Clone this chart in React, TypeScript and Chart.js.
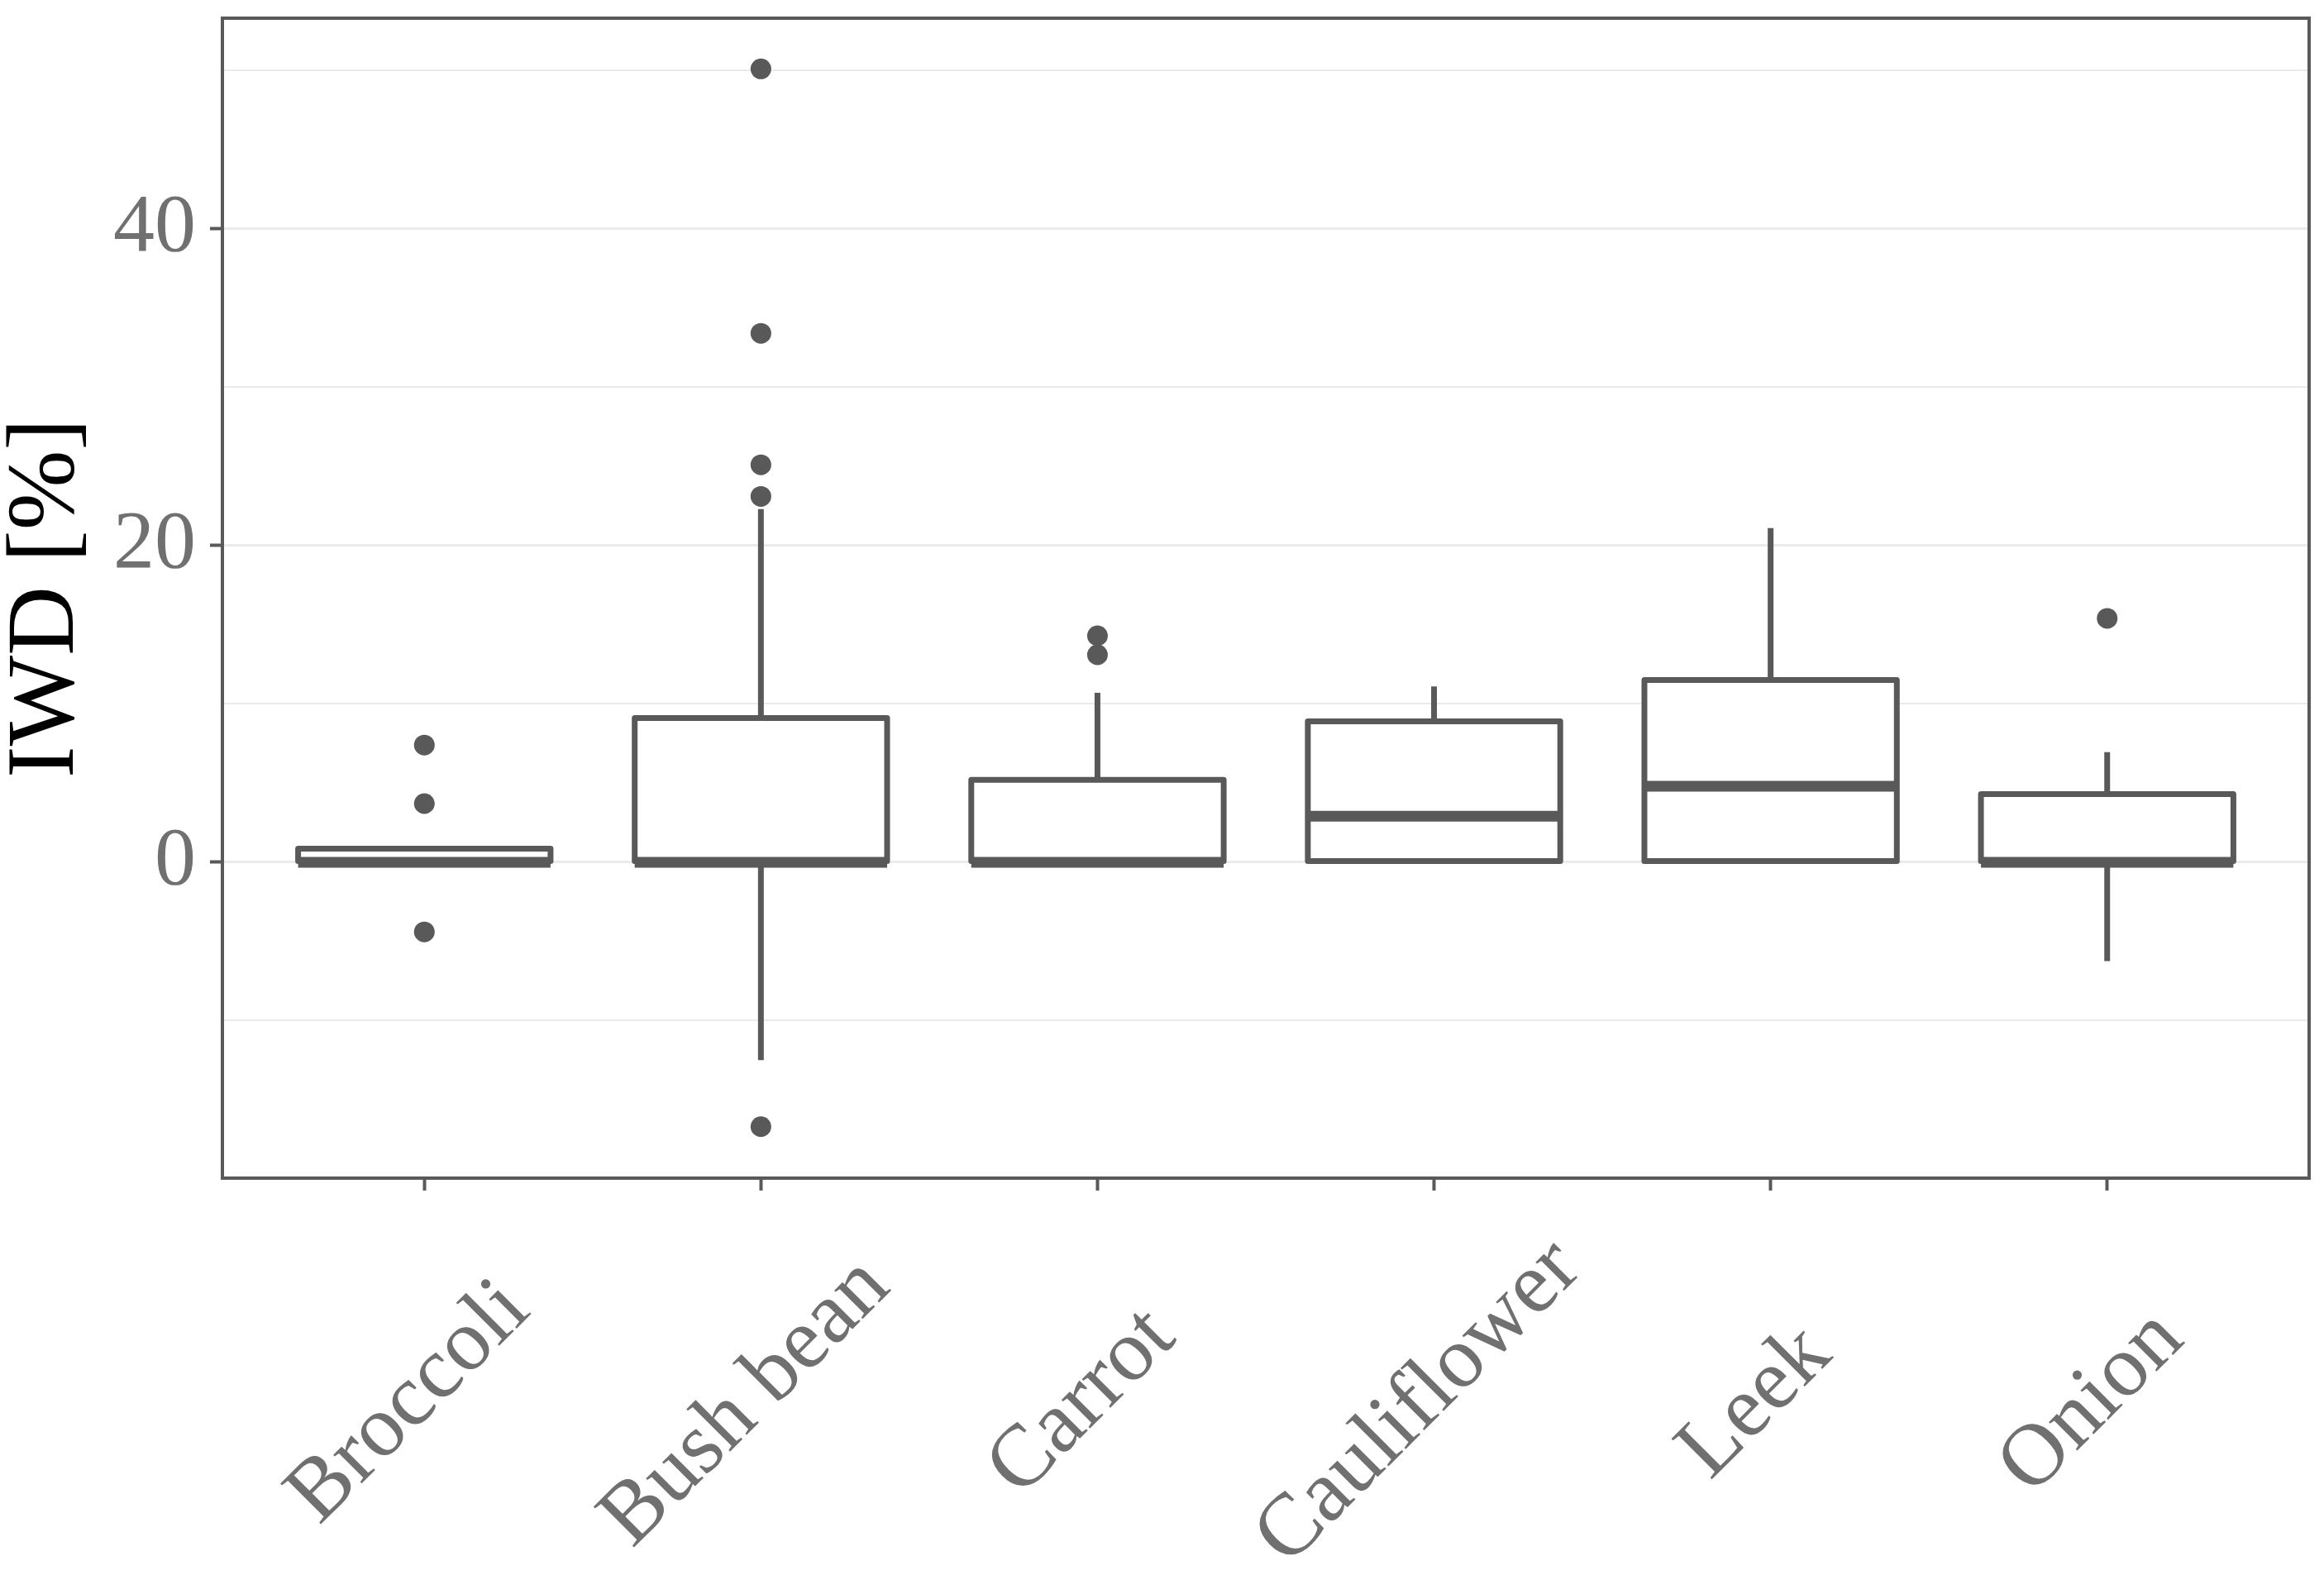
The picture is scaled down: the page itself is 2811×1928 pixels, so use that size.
import React, { useEffect, useRef } from "react";
import { Chart, registerables } from "chart.js";

Chart.register(...registerables);

// box statistics per crop
const categories = ["Broccoli", "Bush bean", "Carrot", "Cauliflower", "Leek", "Onion"];
const q1 = [0, 0, 0, 0, 0, 0];
const median = [0, 0, 0, 2.9, 4.8, 0];
const q3 = [0.85, 9.1, 5.2, 8.9, 11.5, 4.3];
const whiskerLow = [0, -12.5, 0, 0, 0, -6.25];
const whiskerHigh = [0.85, 22.3, 10.7, 11.1, 21.1, 6.95];
const outliers = [
  [7.4, 3.7, -4.4],
  [50.1, 33.4, 25.1, 23.1, -16.7],
  [14.3, 13.1],
  [],
  [],
  [15.4],
];
const yGridValues = [-10, 0, 10, 20, 30, 40, 50];

const LINE = "#595959";
const TEXT = "#707070";
const SERIF = '"Liberation Serif", serif';

const boxParts = {
  id: "boxParts",
  beforeDatasetsDraw(chart: any) {
    const { ctx } = chart;
    const x = chart.scales.x;
    const y = chart.scales.y;
    ctx.save();
    ctx.strokeStyle = LINE;
    ctx.lineWidth = 7;
    categories.forEach((_, i) => {
      const px = x.getPixelForValue(i);
      ctx.beginPath();
      ctx.moveTo(px, y.getPixelForValue(q3[i]));
      ctx.lineTo(px, y.getPixelForValue(whiskerHigh[i]));
      ctx.moveTo(px, y.getPixelForValue(q1[i]));
      ctx.lineTo(px, y.getPixelForValue(whiskerLow[i]));
      ctx.stroke();
    });
    ctx.restore();
  },
  afterDatasetDraw(chart: any, args: any) {
    if (args.index !== 0) return;
    const { ctx } = chart;
    const y = chart.scales.y;
    const bars = chart.getDatasetMeta(0).data;
    ctx.save();
    ctx.strokeStyle = LINE;
    ctx.lineJoin = "round";
    bars.forEach((bar: any, i: number) => {
      const left = bar.x - bar.width / 2;
      const top = Math.min(bar.y, bar.base);
      const h = Math.abs(bar.base - bar.y);
      // box outline, stroked on the bar's edges
      ctx.lineWidth = 7;
      ctx.strokeRect(left, top, bar.width, h);
      // median
      const py = y.getPixelForValue(median[i]);
      ctx.lineWidth = 13;
      ctx.beginPath();
      ctx.moveTo(left, py);
      ctx.lineTo(left + bar.width, py);
      ctx.stroke();
    });
    ctx.restore();
  },
  afterDraw(chart: any) {
    const { ctx, chartArea } = chart;
    const x = chart.scales.x;
    ctx.save();
    // panel border
    ctx.strokeStyle = LINE;
    ctx.lineWidth = 4;
    ctx.strokeRect(chartArea.left, chartArea.top, chartArea.right - chartArea.left, chartArea.bottom - chartArea.top);
    // rotated category labels, centred under each tick
    ctx.fillStyle = TEXT;
    ctx.font = `106px ${SERIF}`;
    ctx.textAlign = "center";
    ctx.textBaseline = "middle";
    categories.forEach((c, i) => {
      ctx.save();
      ctx.translate(x.getPixelForValue(i) - 18, chartArea.bottom + 272);
      ctx.rotate(-Math.PI / 4);
      ctx.fillText(c, 0, 0);
      ctx.restore();
    });
    ctx.restore();
  },
};

const BoxChart: React.FC = () => {
  const canvasRef = useRef<HTMLCanvasElement | null>(null);
  const chartRef = useRef<Chart | null>(null);

  useEffect(() => {
    document.body.style.margin = "0";
    if (!canvasRef.current) return;
    const ctx = canvasRef.current.getContext("2d");
    if (!ctx) return;
    if (chartRef.current) chartRef.current.destroy();

    const boxes = categories.map((_, i) => ({ x: i, y: [q1[i], q3[i]] }));
    const points = outliers.flatMap((vals, i) => vals.map((v) => ({ x: i, y: v })));
    const isMajor = (c: any) => c.tick && c.tick.value % 20 === 0;

    chartRef.current = new Chart(ctx, {
      type: "bar",
      data: {
        datasets: [
          {
            type: "bar",
            data: boxes as any,
            backgroundColor: "#ffffff",
            borderWidth: 0,
            categoryPercentage: 1,
            barPercentage: 0.75,
          },
          {
            type: "scatter",
            data: points,
            backgroundColor: LINE,
            borderWidth: 0,
            pointRadius: 12.5,
          } as any,
        ],
      },
      options: {
        animation: false,
        responsive: false,
        devicePixelRatio: 1,
        layout: { padding: { top: 22, right: 18, left: 0, bottom: 0 } },
        plugins: {
          legend: { display: false },
          tooltip: { enabled: false },
        },
        scales: {
          x: {
            type: "linear",
            offset: false,
            min: -0.6,
            max: 5.6,
            afterBuildTicks: (s: any) => {
              s.ticks = categories.map((_, i) => ({ value: i }));
            },
            afterFit: (s: any) => {
              s.height = 503;
              s.paddingLeft = 0;
              s.paddingRight = 0;
            },
            grid: { offset: false, drawOnChartArea: false, tickLength: 15, tickColor: LINE, tickWidth: 4 },
            border: { display: false },
            ticks: { display: false },
          },
          y: {
            min: -19.95,
            max: 53.3,
            afterBuildTicks: (s: any) => {
              s.ticks = yGridValues.map((v) => ({ value: v }));
            },
            afterFit: (s: any) => {
              s.width = 269;
              s.paddingTop = 0;
              s.paddingBottom = 0;
            },
            grid: {
              color: "#ebebeb",
              lineWidth: (c: any) => (isMajor(c) ? 3 : 2),
              tickColor: (c: any) => (isMajor(c) ? LINE : "rgba(0,0,0,0)"),
              tickWidth: 4,
              tickLength: 15,
            },
            border: { display: false },
            ticks: {
              callback: (v: any) => (Number(v) % 20 === 0 ? String(v) : ""),
              color: TEXT,
              font: { family: SERIF, size: 100 },
              padding: 17,
            },
            title: {
              display: true,
              text: "IWD [%]",
              color: "#000000",
              font: { family: SERIF, size: 116, lineHeight: 1 },
              padding: 0,
            },
          },
        },
      },
      plugins: [boxParts],
    });

    return () => {
      if (chartRef.current) {
        chartRef.current.destroy();
        chartRef.current = null;
      }
    };
  }, []);

  return (
    <div style={{ width: 2811, height: 1928 }}>
      <canvas ref={canvasRef} width={2811} height={1928} style={{ display: "block" }}></canvas>
    </div>
  );
};

export default function App() {
  return <BoxChart />;
}
